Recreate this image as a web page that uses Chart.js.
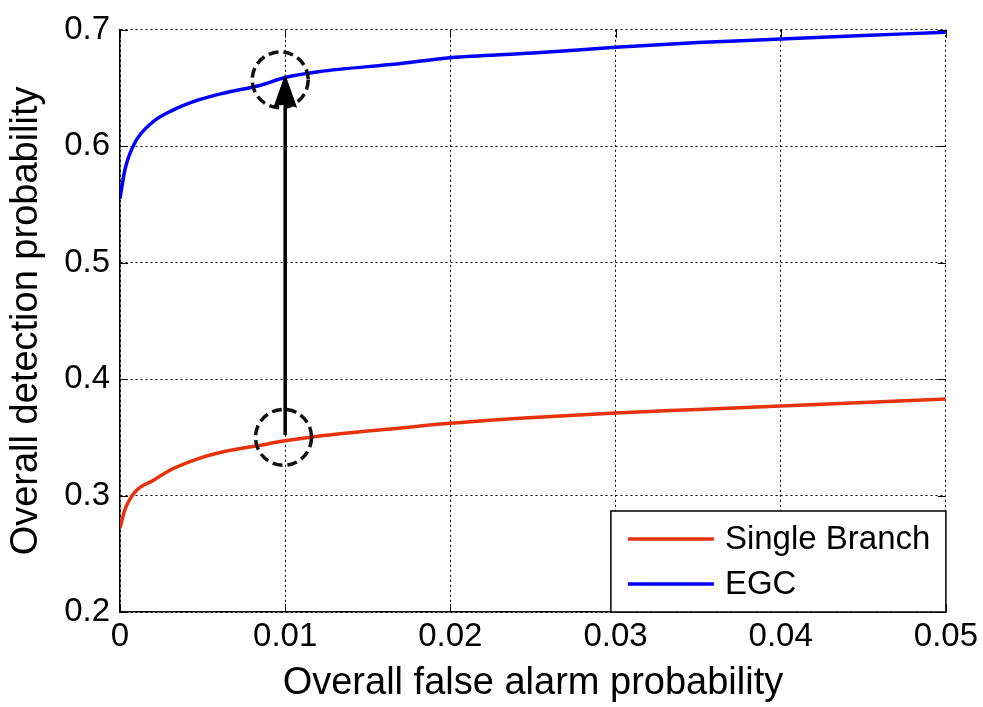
<!DOCTYPE html>
<html>
<head>
<meta charset="utf-8">
<script src="https://cdn.jsdelivr.net/npm/chart.js@4.4.1/dist/chart.umd.min.js"></script>
<style>
  html, body { margin: 0; padding: 0; background: #fff; }
  canvas { display: block; }
</style>
</head>
<body>
<canvas id="roc" width="983" height="707"></canvas>
<script>
// false alarm probability (x) and detection probability for each scheme
const falseAlarm = [0, 0.0003, 0.0009, 0.002, 0.0032, 0.0048, 0.0064, 0.0084, 0.01, 0.012, 0.017, 0.02, 0.025, 0.03, 0.035, 0.04, 0.045, 0.05]
const singleBranch = [0.272, 0.288, 0.303, 0.313, 0.323, 0.332, 0.338, 0.343, 0.347, 0.351, 0.358, 0.362, 0.367, 0.371, 0.374, 0.377, 0.380, 0.383]
const egc = [0.555, 0.580, 0.603, 0.621, 0.631, 0.640, 0.646, 0.652, 0.659, 0.664, 0.671, 0.676, 0.680, 0.685, 0.689, 0.692, 0.695, 0.698]

const seriesLabels = ['Single Branch', 'EGC']
const seriesColors = ['#E8320C', '#0000FF']

const xTicks = [0, 0.01, 0.02, 0.03, 0.04, 0.05]
const xTickLabels = ['0', '0.01', '0.02', '0.03', '0.04', '0.05']
const yTicks = [0.2, 0.3, 0.4, 0.5, 0.6, 0.7]
const yTickLabels = ['0.2', '0.3', '0.4', '0.5', '0.6', '0.7']

// annotation: arrow from single branch to EGC at Pfa = 0.01, dashed circles round both ends
const arrowX = 0.01
const arrowFrom = 0.352
const arrowTo = 0.662
const circleMarks = [{ x: 0.0097, y: 0.657 }, { x: 0.0099, y: 0.350 }]

const FONT = "'Liberation Sans', Arial, sans-serif"

const toPoints = ys => falseAlarm.map((x, i) => ({ x, y: ys[i] }))

// small inward tick marks on all four sides, like matlab's box
const innerTicks = {
  id: 'innerTicks',
  afterDraw(chart) {
    const { ctx, chartArea: a, scales: { x, y } } = chart
    const len = 8
    ctx.save()
    ctx.strokeStyle = '#000'
    ctx.lineWidth = 1
    ctx.beginPath()
    xTicks.forEach(v => {
      const px = Math.round(x.getPixelForValue(v)) + 0.5
      ctx.moveTo(px, a.bottom); ctx.lineTo(px, a.bottom - len)
      ctx.moveTo(px, a.top); ctx.lineTo(px, a.top + len)
    })
    yTicks.forEach(v => {
      const py = Math.round(y.getPixelForValue(v)) + 0.5
      ctx.moveTo(a.left, py); ctx.lineTo(a.left + len, py)
      ctx.moveTo(a.right, py); ctx.lineTo(a.right - len, py)
    })
    ctx.stroke()
    ctx.restore()
  }
}

const annotations = {
  id: 'annotations',
  afterDatasetsDraw(chart) {
    const { ctx, scales: { x, y } } = chart
    ctx.save()
    // dashed circles
    ctx.strokeStyle = '#111'
    ctx.lineWidth = 3.5
    ctx.setLineDash([10, 5])
    circleMarks.forEach(c => {
      ctx.beginPath()
      ctx.arc(x.getPixelForValue(c.x), y.getPixelForValue(c.y), 28, 0, Math.PI * 2)
      ctx.stroke()
    })
    ctx.setLineDash([])
    // arrow shaft
    const ax = x.getPixelForValue(arrowX)
    const y0 = y.getPixelForValue(arrowFrom)
    const y1 = y.getPixelForValue(arrowTo)
    ctx.strokeStyle = '#000'
    ctx.lineWidth = 3.5
    ctx.beginPath()
    ctx.moveTo(ax, y0)
    ctx.lineTo(ax, y1 + 20)
    ctx.stroke()
    // arrow head
    ctx.fillStyle = '#000'
    ctx.beginPath()
    ctx.moveTo(ax, y1)
    ctx.lineTo(ax - 12, y1 + 34)
    ctx.quadraticCurveTo(ax, y1 + 27, ax + 12, y1 + 34)
    ctx.closePath()
    ctx.fill()
    ctx.restore()
  }
}

const boxLegend = {
  id: 'boxLegend',
  afterDraw(chart) {
    const { ctx, chartArea: a } = chart
    const w = 335, h = 101
    const left = a.right - w, top = a.bottom - h
    ctx.save()
    ctx.fillStyle = '#fff'
    ctx.fillRect(left, top, w, h)
    ctx.strokeStyle = '#000'
    ctx.lineWidth = 1.5
    ctx.strokeRect(left, top, w, h)
    ctx.font = `33px ${FONT}`
    ctx.textBaseline = 'middle'
    ctx.fillStyle = '#000'
    chart.data.datasets.forEach((ds, i) => {
      const ly = top + 28 + i * 45
      ctx.strokeStyle = ds.borderColor
      ctx.lineWidth = 3.5
      ctx.beginPath()
      ctx.moveTo(left + 17, ly)
      ctx.lineTo(left + 103, ly)
      ctx.stroke()
      ctx.fillText(ds.label, left + 114, ly + 1)
    })
    ctx.restore()
  }
}

const tickFont = { family: FONT, size: 33 }
const titleFont = { family: FONT, size: 38 }

new Chart(document.getElementById('roc').getContext('2d'), {
  type: 'line',
  data: {
    datasets: [
      { label: seriesLabels[0], data: toPoints(singleBranch), borderColor: seriesColors[0] },
      { label: seriesLabels[1], data: toPoints(egc), borderColor: seriesColors[1] },
    ].map(ds => ({ ...ds, borderWidth: 3.5, pointRadius: 0, cubicInterpolationMode: 'monotone', fill: false }))
  },
  options: {
    responsive: false,
    animation: false,
    layout: { padding: { top: 22, right: 37, left: 0, bottom: 0 } },
    plugins: { legend: { display: false }, tooltip: { enabled: false } },
    scales: {
      x: {
        type: 'linear',
        min: 0,
        max: 0.05,
        afterBuildTicks: s => { s.ticks = xTicks.map(value => ({ value })) },
        afterFit: s => { s.height = 95 },
        ticks: {
          font: tickFont,
          color: '#000',
          padding: 5,
          maxRotation: 0,
          callback: (v, i) => xTickLabels[i],
        },
        grid: { color: '#000', lineWidth: 1, drawTicks: false },
        border: { display: true, color: '#000', width: 1.5, dash: [2, 3] },
        title: { display: true, text: 'Overall false alarm probability', font: titleFont, color: '#000', padding: { top: 0, bottom: 1 } },
      },
      y: {
        type: 'linear',
        min: 0.2,
        max: 0.7,
        afterBuildTicks: s => { s.ticks = yTicks.map(value => ({ value })) },
        afterFit: s => { s.width = 120 },
        ticks: {
          font: tickFont,
          color: '#000',
          padding: 10,
          callback: (v, i) => yTickLabels[i],
        },
        grid: { color: '#000', lineWidth: 1, drawTicks: false },
        border: { display: true, color: '#000', width: 1.5, dash: [2, 3] },
        title: { display: true, text: 'Overall detection probability', font: titleFont, color: '#000', padding: { top: 4, bottom: 0 } },
      }
    }
  },
  plugins: [annotations, innerTicks, boxLegend]
})
</script>
</body>
</html>
